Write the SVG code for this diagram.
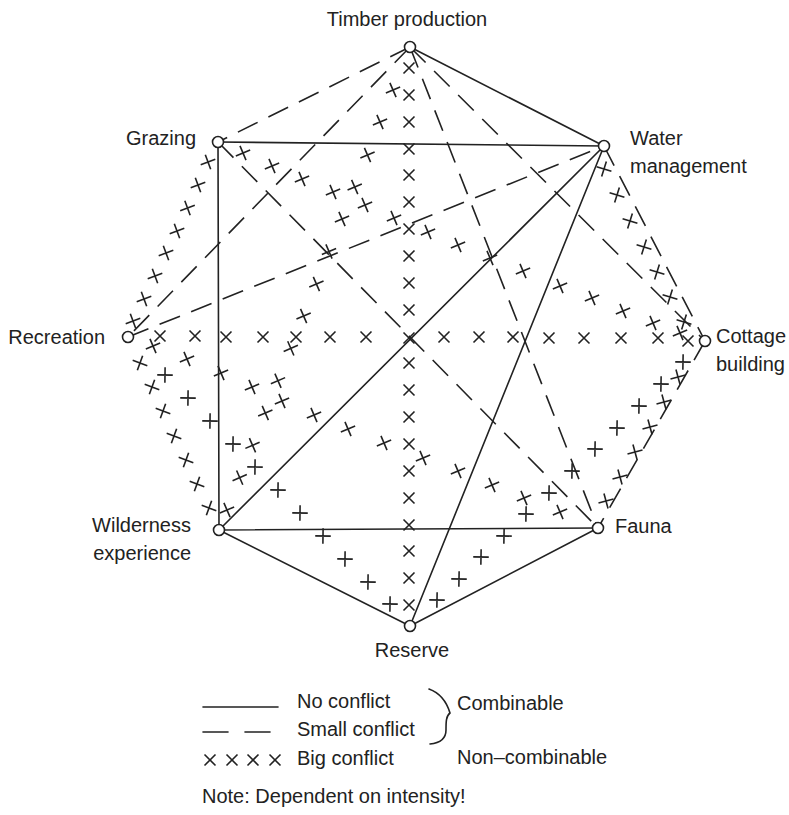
<svg xmlns="http://www.w3.org/2000/svg" xmlns:xlink="http://www.w3.org/1999/xlink" width="789" height="815" viewBox="0 0 789 815">
<style>
  .ln { stroke:#222; stroke-width:1.6; fill:none; stroke-linecap:round; }
  .ds { stroke-dasharray:22 12; stroke-linecap:butt; }
  .nd { fill:#fff; stroke:#222; stroke-width:1.6; }
  text { font-family:"Liberation Sans", Arial, Helvetica, sans-serif; font-size:20px; fill:#222; }
  .xs use { stroke:#222; }
</style>
<defs>
  <path id="x" d="M-5.5,-5.5L5.5,5.5M-5.5,5.5L5.5,-5.5" stroke="#222" stroke-width="1.6" fill="none"/>
</defs>
<rect width="789" height="815" fill="#fff"/>

<g id="connectors">
  <!-- No conflict (solid) -->
  <g id="solid">
    <line class="ln" x1="410" y1="47" x2="604" y2="146"/>
    <line class="ln" x1="218" y1="142" x2="604" y2="146"/>
    <line class="ln" x1="218" y1="142" x2="219" y2="530"/>
    <line class="ln" x1="219" y1="530" x2="604" y2="146"/>
    <line class="ln" x1="219" y1="530" x2="598" y2="528"/>
    <line class="ln" x1="219" y1="530" x2="410" y2="626"/>
    <line class="ln" x1="410" y1="626" x2="598" y2="528"/>
    <line class="ln" x1="410" y1="626" x2="604" y2="146"/>
  </g>
  <!-- Small conflict (dashed) -->
  <g id="dashed">
    <line class="ln ds" x1="410" y1="47" x2="218" y2="142"/>
    <line class="ln ds" x1="410" y1="47" x2="128" y2="337"/>
    <line class="ln ds" x1="410" y1="47" x2="705" y2="341"/>
    <line class="ln ds" x1="410" y1="47" x2="598" y2="528"/>
    <line class="ln ds" x1="218" y1="142" x2="598" y2="528"/>
    <line class="ln ds" x1="128" y1="337" x2="604" y2="146"/>
    <line class="ln ds" x1="604" y1="146" x2="705" y2="341"/>
    <line class="ln ds" x1="705" y1="341" x2="598" y2="528"/>
  </g>
  <!-- Big conflict (crosses) -->
  <g id="crosses">
    <!-- Timber - Reserve -->
    <g id="x-timber-reserve">
      <use xlink:href="#x" transform="translate(409,68)"/>
      <use xlink:href="#x" transform="translate(409,95)"/>
      <use xlink:href="#x" transform="translate(409,122)"/>
      <use xlink:href="#x" transform="translate(409,149)"/>
      <use xlink:href="#x" transform="translate(409,175)"/>
      <use xlink:href="#x" transform="translate(409,202)"/>
      <use xlink:href="#x" transform="translate(409,229)"/>
      <use xlink:href="#x" transform="translate(409,256)"/>
      <use xlink:href="#x" transform="translate(409,283)"/>
      <use xlink:href="#x" transform="translate(409,310)"/>
      <use xlink:href="#x" transform="translate(409,338)"/>
      <use xlink:href="#x" transform="translate(409,363)"/>
      <use xlink:href="#x" transform="translate(409,390)"/>
      <use xlink:href="#x" transform="translate(409,417)"/>
      <use xlink:href="#x" transform="translate(409,444)"/>
      <use xlink:href="#x" transform="translate(409,471)"/>
      <use xlink:href="#x" transform="translate(409,498)"/>
      <use xlink:href="#x" transform="translate(409,525)"/>
      <use xlink:href="#x" transform="translate(409,551)"/>
      <use xlink:href="#x" transform="translate(409,578)"/>
      <use xlink:href="#x" transform="translate(409,605)"/>
    </g>
    <!-- Timber - Wilderness -->
    <g id="x-timber-wilderness">
      <use xlink:href="#x" transform="translate(393,90) rotate(21.6)"/>
      <use xlink:href="#x" transform="translate(380,122) rotate(21.6)"/>
      <use xlink:href="#x" transform="translate(367.5,155) rotate(21.6)"/>
      <use xlink:href="#x" transform="translate(354.7,187) rotate(21.6)"/>
      <use xlink:href="#x" transform="translate(342,219) rotate(21.6)"/>
      <use xlink:href="#x" transform="translate(329,251.5) rotate(21.6)"/>
      <use xlink:href="#x" transform="translate(316.4,284) rotate(21.6)"/>
      <use xlink:href="#x" transform="translate(303.6,316) rotate(21.6)"/>
      <use xlink:href="#x" transform="translate(290.8,348.4) rotate(21.6)"/>
      <use xlink:href="#x" transform="translate(278,380.7) rotate(21.6)"/>
      <use xlink:href="#x" transform="translate(265.3,413) rotate(21.6)"/>
      <use xlink:href="#x" transform="translate(252.5,445.3) rotate(21.6)"/>
      <use xlink:href="#x" transform="translate(239.7,477.6) rotate(21.6)"/>
      <use xlink:href="#x" transform="translate(227,510) rotate(21.6)"/>
    </g>
    <!-- Grazing - Cottage -->
    <g id="x-grazing-cottage">
      <use xlink:href="#x" transform="translate(243,153) rotate(22.2)"/>
      <use xlink:href="#x" transform="translate(272,166) rotate(22.2)"/>
      <use xlink:href="#x" transform="translate(302,179) rotate(22.2)"/>
      <use xlink:href="#x" transform="translate(333,192) rotate(22.2)"/>
      <use xlink:href="#x" transform="translate(365,205) rotate(22.2)"/>
      <use xlink:href="#x" transform="translate(394,218) rotate(22.2)"/>
      <use xlink:href="#x" transform="translate(428,232) rotate(22.2)"/>
      <use xlink:href="#x" transform="translate(458,245) rotate(22.2)"/>
      <use xlink:href="#x" transform="translate(490,258) rotate(22.2)"/>
      <use xlink:href="#x" transform="translate(523,271) rotate(22.2)"/>
      <use xlink:href="#x" transform="translate(560,286) rotate(22.2)"/>
      <use xlink:href="#x" transform="translate(592,298) rotate(22.2)"/>
      <use xlink:href="#x" transform="translate(623,311) rotate(22.2)"/>
      <use xlink:href="#x" transform="translate(653,323) rotate(22.2)"/>
      <use xlink:href="#x" transform="translate(680,333) rotate(22.2)"/>
    </g>
    <!-- Grazing - Recreation -->
    <g id="x-grazing-recreation">
      <use xlink:href="#x" transform="translate(208,162) rotate(24.8)"/>
      <use xlink:href="#x" transform="translate(198,185) rotate(24.8)"/>
      <use xlink:href="#x" transform="translate(187.5,208) rotate(24.8)"/>
      <use xlink:href="#x" transform="translate(177,231) rotate(24.8)"/>
      <use xlink:href="#x" transform="translate(166,253) rotate(24.8)"/>
      <use xlink:href="#x" transform="translate(155,276) rotate(24.8)"/>
      <use xlink:href="#x" transform="translate(144,299) rotate(24.8)"/>
      <use xlink:href="#x" transform="translate(133,321) rotate(24.8)"/>
    </g>
    <!-- Recreation - Wilderness -->
    <g id="x-recreation-wilderness">
      <use xlink:href="#x" transform="translate(140,363) rotate(64.8)"/>
      <use xlink:href="#x" transform="translate(152,387) rotate(64.8)"/>
      <use xlink:href="#x" transform="translate(163,411) rotate(64.8)"/>
      <use xlink:href="#x" transform="translate(174,436) rotate(64.8)"/>
      <use xlink:href="#x" transform="translate(186,460) rotate(64.8)"/>
      <use xlink:href="#x" transform="translate(197,484) rotate(64.8)"/>
      <use xlink:href="#x" transform="translate(209,508) rotate(64.8)"/>
    </g>
    <!-- Recreation - Cottage -->
    <g id="x-recreation-cottage">
      <use xlink:href="#x" transform="translate(160,336)"/>
      <use xlink:href="#x" transform="translate(195,336)"/>
      <use xlink:href="#x" transform="translate(226,337)"/>
      <use xlink:href="#x" transform="translate(263,337)"/>
      <use xlink:href="#x" transform="translate(296,337)"/>
      <use xlink:href="#x" transform="translate(330,337)"/>
      <use xlink:href="#x" transform="translate(366,337)"/>
      <use xlink:href="#x" transform="translate(444,337)"/>
      <use xlink:href="#x" transform="translate(479,337)"/>
      <use xlink:href="#x" transform="translate(513,337)"/>
      <use xlink:href="#x" transform="translate(549,338)"/>
      <use xlink:href="#x" transform="translate(584,338)"/>
      <use xlink:href="#x" transform="translate(621,338)"/>
      <use xlink:href="#x" transform="translate(658,338)"/>
      <use xlink:href="#x" transform="translate(688,341)"/>
    </g>
    <!-- Recreation - Fauna -->
    <g id="x-recreation-fauna">
      <use xlink:href="#x" transform="translate(153,346) rotate(22.1)"/>
      <use xlink:href="#x" transform="translate(187,359) rotate(22.1)"/>
      <use xlink:href="#x" transform="translate(221,373) rotate(22.1)"/>
      <use xlink:href="#x" transform="translate(252,387) rotate(22.1)"/>
      <use xlink:href="#x" transform="translate(282,401) rotate(22.1)"/>
      <use xlink:href="#x" transform="translate(314,415) rotate(22.1)"/>
      <use xlink:href="#x" transform="translate(348,429) rotate(22.1)"/>
      <use xlink:href="#x" transform="translate(384,443) rotate(22.1)"/>
      <use xlink:href="#x" transform="translate(423,458) rotate(22.1)"/>
      <use xlink:href="#x" transform="translate(458,471) rotate(22.1)"/>
      <use xlink:href="#x" transform="translate(492,485) rotate(22.1)"/>
      <use xlink:href="#x" transform="translate(524,498) rotate(22.1)"/>
      <use xlink:href="#x" transform="translate(560,512) rotate(22.1)"/>
    </g>
    <!-- Recreation - Reserve -->
    <g id="x-recreation-reserve">
      <use xlink:href="#x" transform="translate(165,375) rotate(45.7)"/>
      <use xlink:href="#x" transform="translate(188,398) rotate(45.7)"/>
      <use xlink:href="#x" transform="translate(210,421) rotate(45.7)"/>
      <use xlink:href="#x" transform="translate(233,444) rotate(45.7)"/>
      <use xlink:href="#x" transform="translate(255,467) rotate(45.7)"/>
      <use xlink:href="#x" transform="translate(278,490) rotate(45.7)"/>
      <use xlink:href="#x" transform="translate(300,513) rotate(45.7)"/>
      <use xlink:href="#x" transform="translate(323,536) rotate(45.7)"/>
      <use xlink:href="#x" transform="translate(345,559) rotate(45.7)"/>
      <use xlink:href="#x" transform="translate(368,582) rotate(45.7)"/>
      <use xlink:href="#x" transform="translate(390,604) rotate(45.7)"/>
    </g>
    <!-- Cottage - Reserve -->
    <g id="x-cottage-reserve">
      <use xlink:href="#x" transform="translate(683,362) rotate(46)"/>
      <use xlink:href="#x" transform="translate(661,384) rotate(46)"/>
      <use xlink:href="#x" transform="translate(639,406) rotate(46)"/>
      <use xlink:href="#x" transform="translate(617,428) rotate(46)"/>
      <use xlink:href="#x" transform="translate(595,449) rotate(46)"/>
      <use xlink:href="#x" transform="translate(572,471) rotate(46)"/>
      <use xlink:href="#x" transform="translate(549,493) rotate(46)"/>
      <use xlink:href="#x" transform="translate(526,514) rotate(46)"/>
      <use xlink:href="#x" transform="translate(504,536) rotate(46)"/>
      <use xlink:href="#x" transform="translate(481,557) rotate(46)"/>
      <use xlink:href="#x" transform="translate(459,579) rotate(46)"/>
      <use xlink:href="#x" transform="translate(437,600) rotate(46)"/>
    </g>
    <!-- Cottage - Fauna -->
    <g id="x-cottage-fauna">
      <use xlink:href="#x" transform="translate(678,377) rotate(29.8)"/>
      <use xlink:href="#x" transform="translate(664,402) rotate(29.8)"/>
      <use xlink:href="#x" transform="translate(650,427) rotate(29.8)"/>
      <use xlink:href="#x" transform="translate(635,452) rotate(29.8)"/>
      <use xlink:href="#x" transform="translate(620,477) rotate(29.8)"/>
      <use xlink:href="#x" transform="translate(606,501) rotate(29.8)"/>
    </g>
    <!-- Water - Cottage -->
    <g id="x-water-cottage">
      <use xlink:href="#x" transform="translate(604,169) rotate(62.6)"/>
      <use xlink:href="#x" transform="translate(617,195) rotate(62.6)"/>
      <use xlink:href="#x" transform="translate(630,221) rotate(62.6)"/>
      <use xlink:href="#x" transform="translate(644,247) rotate(62.6)"/>
      <use xlink:href="#x" transform="translate(657,272) rotate(62.6)"/>
      <use xlink:href="#x" transform="translate(670,297) rotate(62.6)"/>
      <use xlink:href="#x" transform="translate(684,322) rotate(62.6)"/>
    </g>
  </g>
</g>

<g id="node-timber">
  <circle class="nd" cx="410" cy="47" r="5.5"/>
  <text x="407" y="26" text-anchor="middle">Timber production</text>
</g>
<g id="node-grazing">
  <circle class="nd" cx="218" cy="142" r="5.5"/>
  <text x="196" y="145" text-anchor="end">Grazing</text>
</g>
<g id="node-water">
  <circle class="nd" cx="604" cy="146" r="5.5"/>
  <text x="630" y="145">Water</text>
  <text x="630" y="173">management</text>
</g>
<g id="node-recreation">
  <circle class="nd" cx="128" cy="337" r="5.5"/>
  <text x="105" y="344" text-anchor="end">Recreation</text>
</g>
<g id="node-cottage">
  <circle class="nd" cx="705" cy="341" r="5.5"/>
  <text x="716" y="343">Cottage</text>
  <text x="716" y="371">building</text>
</g>
<g id="node-wilderness">
  <circle class="nd" cx="219" cy="530" r="5.5"/>
  <text x="191" y="532" text-anchor="end">Wilderness</text>
  <text x="191" y="560" text-anchor="end">experience</text>
</g>
<g id="node-fauna">
  <circle class="nd" cx="598" cy="528" r="5.5"/>
  <text x="615" y="533">Fauna</text>
</g>
<g id="node-reserve">
  <circle class="nd" cx="410" cy="626" r="5.5"/>
  <text x="412" y="657" text-anchor="middle">Reserve</text>
</g>

<g id="legend">
  <line class="ln" x1="203" y1="707" x2="278" y2="707"/>
  <line class="ln" x1="203" y1="732" x2="228" y2="732"/>
  <line class="ln" x1="245" y1="732" x2="270" y2="732"/>
  <use xlink:href="#x" transform="translate(210,760)"/>
  <use xlink:href="#x" transform="translate(232,760)"/>
  <use xlink:href="#x" transform="translate(253,760)"/>
  <use xlink:href="#x" transform="translate(275,760)"/>
  <text x="297" y="708">No conflict</text>
  <text x="297" y="736">Small conflict</text>
  <text x="297" y="765">Big conflict</text>
  <path class="ln" d="M429,689 C440,693 447,703 450,713 C446,716 446,722 446,730 C446,739 440,743 430,744"/>
  <text x="457" y="710">Combinable</text>
  <text x="457" y="764">Non–combinable</text>
  <text x="202" y="803">Note: Dependent on intensity!</text>
</g>
</svg>
